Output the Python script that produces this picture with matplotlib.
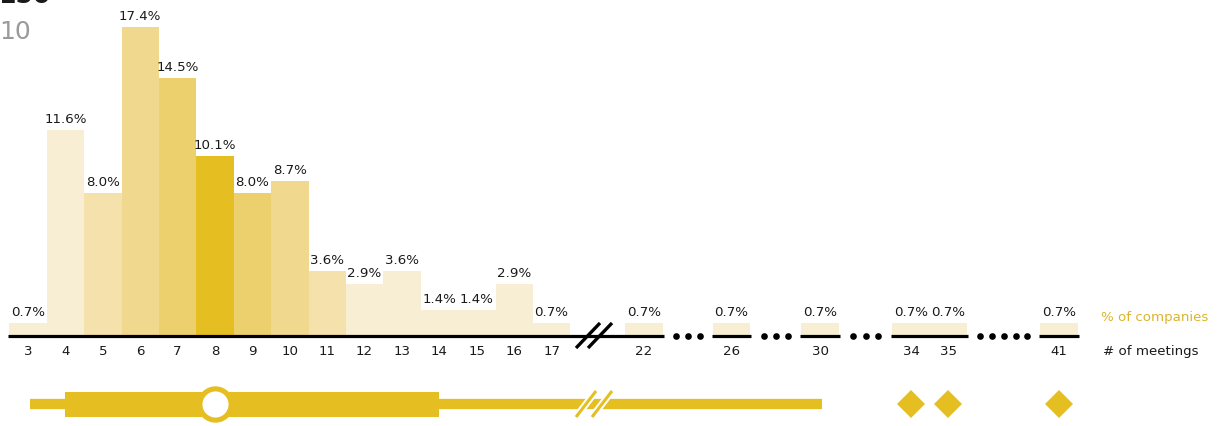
import matplotlib
matplotlib.use("Agg")
import matplotlib.pyplot as plt
from matplotlib.patches import Rectangle

# ---------------- data ----------------
meetings = [3, 4, 5, 6, 7, 8, 9, 10, 11, 12, 13, 14, 15, 16, 17, 22, 26, 30, 34, 35, 41]
pct_companies = [0.7, 11.6, 8.0, 17.4, 14.5, 10.1, 8.0, 8.7, 3.6, 2.9, 3.6, 1.4, 1.4, 2.9, 0.7,
                 0.7, 0.7, 0.7, 0.7, 0.7, 0.7]
shade = [0, 0, 1, 2, 3, 4, 3, 2, 1, 0, 0, 0, 0, 0, 0, 0, 0, 0, 0, 0, 0]
# distribution summary (box plot below)
whisker_low, q1, median, q3, whisker_high = 3, 4, 8, 14, 30
outliers = [34, 35, 41]
# axis segments (groups of shown values) and count of skipped values between them
segments = [(3, 22), (26, 26), (30, 30), (34, 35), (41, 41)]
gap_dots = [3, 3, 3, 5]

# ---------------- layout ----------------
slot_pos = [0, 1, 2, 3, 4, 5, 6, 7, 8, 9, 10, 11, 12, 13, 14,
            16.47, 18.81, 21.18, 23.61, 24.61, 27.57]
pos_of = dict(zip(meetings, slot_pos))

W, H = 1222, 427
PX_SLOT = 37.4
X0 = 28.0
PX_PCT = 17.7
BASE = 336.0

palette = ["#f8eed3", "#f5e1ac", "#f0d88f", "#ebd06d", "#e5bf22"]
yellow = "#e5bf22"

fig = plt.figure(figsize=(W / 100, H / 100), dpi=100)
ax = fig.add_axes([0, 0, 1, 1])
ax.set_xlim(-X0 / PX_SLOT, (W - X0) / PX_SLOT)
ax.set_ylim((BASE - H) / PX_PCT, BASE / PX_PCT)
ax.axis("off")

def px2x(px):
    return (px - X0) / PX_SLOT

def py2y(py):
    return (BASE - py) / PX_PCT

FS = 9.6
# bars
xs = [pos_of[m] for m in meetings]
ax.bar(xs, pct_companies, width=1.0, color=[palette[s] for s in shade], linewidth=0, zorder=1)
for x, v in zip(xs, pct_companies):
    ax.annotate(f"{v:.1f}%", (x, v), xytext=(0, 8), textcoords="offset pixels",
                ha="center", va="baseline", fontsize=FS, color="#1a1a1a", zorder=3)

# tick labels
for m, x in zip(meetings, xs):
    ax.text(x, py2y(352), str(m), ha="center", va="center", fontsize=FS, color="#1a1a1a")

# axis segments
pad = 0.03
for a, b in segments:
    ax.plot([pos_of[a] - 0.5 - pad, pos_of[b] + 0.5 + pad], [py2y(336.8)] * 2,
            color="black", lw=2.3, solid_capstyle="butt", zorder=4)
# dots in gaps
for (a0, b0), (a1, b1), n in zip(segments[:-1], segments[1:], gap_dots):
    left = pos_of[b0] + 0.5 + pad
    right = pos_of[a1] - 0.5 - pad
    step = (right - left) / (n + 1)
    for k in range(1, n + 1):
        ax.plot(left + step * k, py2y(336.8), "o", color="black", ms=4.8, mew=0, zorder=4)

# black break marks
for x0p in (576, 588):
    ax.plot([px2x(x0p), px2x(x0p + 24)], [py2y(349), py2y(324)], color="black", lw=2.4,
            solid_capstyle="butt", zorder=5)

# box plot summary
yb = py2y(405)
ax.plot([pos_of[whisker_low] + 0.05, pos_of[whisker_high] + 0.05], [yb, yb], color=yellow,
        lw=7.4, solid_capstyle="butt", zorder=2)
bh = 25 / PX_PCT
ax.add_patch(Rectangle((pos_of[q1], yb - bh / 2), pos_of[q3] - pos_of[q1], bh,
                       facecolor=yellow, edgecolor="none", zorder=2))
ax.plot(pos_of[median], yb, "o", ms=22.5, mfc="white", mec=yellow, mew=3.7, zorder=6)
ax.plot([pos_of[o] for o in outliers], [yb] * len(outliers), "D", ms=14.2, color=yellow,
        mew=0, zorder=6)
# yellow break marks on whisker
for x0p in (576, 592):
    seg = ([px2x(x0p), px2x(x0p + 20)], [py2y(418), py2y(392)])
    ax.plot(*seg, color="white", lw=5.0, solid_capstyle="butt", zorder=3)
    ax.plot(*seg, color=yellow, lw=2.2, solid_capstyle="butt", zorder=4)

# legend-ish labels
ax.text(px2x(1101), py2y(318), "% of companies", ha="left", va="center", fontsize=FS,
        color="#dcb42c")
ax.text(px2x(1103), py2y(352), "# of meetings", ha="left", va="center", fontsize=FS,
        color="#1a1a1a")

# cut-off header fragments at top-left
ax.text(px2x(-2), py2y(3), "150", ha="left", va="baseline", fontsize=18, fontweight="bold",
        color="#1a1a1a")
ax.text(px2x(-1), py2y(39), "10", ha="left", va="baseline", fontsize=18, color="#9a9a9a")

fig.savefig("out.png", dpi=100)
